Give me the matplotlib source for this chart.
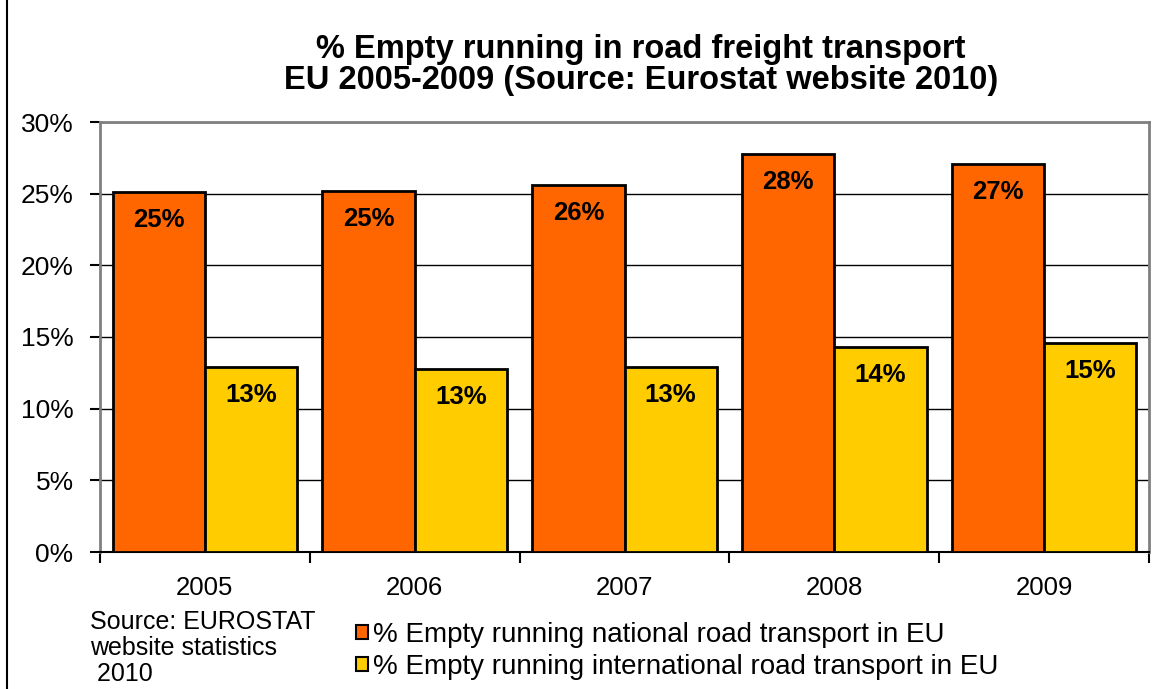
#!/usr/bin/env python3
"""Bar chart of empty running in EU road freight transport, 2005-2009."""

import matplotlib
matplotlib.use("Agg")
import matplotlib.pyplot as plt
from matplotlib.lines import Line2D
from matplotlib.patches import Patch
import numpy as np

years = ["2005", "2006", "2007", "2008", "2009"]
national = [25.1, 25.2, 25.6, 27.8, 27.1]
international = [12.9, 12.8, 12.9, 14.3, 14.6]
series_names = [
    "% Empty running national road transport in EU",
    "% Empty running international road transport in EU",
]
title = "% Empty running in road freight transport\nEU 2005-2009 (Source: Eurostat website 2010)"
source_note = "Source: EUROSTAT\nwebsite statistics\n 2010"

plt.rcParams["font.family"] = ["Liberation Sans", "DejaVu Sans"]

fig = plt.figure(figsize=(11.66, 6.89), dpi=100)
ax = fig.add_axes([100 / 1166, 137 / 689, 1049 / 1166, 430 / 689])

x = np.arange(len(years))
width = 0.44
bars_nat = ax.bar(x - width / 2, national, width, color="#FF6600", edgecolor="black", linewidth=2, zorder=3)
bars_int = ax.bar(x + width / 2, international, width, color="#FFCC00", edgecolor="black", linewidth=2, zorder=3)

for bars, values in ((bars_nat, national), (bars_int, international)):
    for bar, value in zip(bars, values):
        ax.annotate(f"{value:.0f}%", (bar.get_x() + bar.get_width() / 2, bar.get_height()),
                    xytext=(0, -28), textcoords="offset pixels", ha="center", va="center",
                    fontsize=18.5, fontweight="bold", zorder=4)

ax.set_xlim(-0.5, len(years) - 0.5)
ax.set_ylim(0, 30)
ax.set_yticks(np.arange(0, 31, 5))
ax.set_yticklabels([f"{v}%" for v in range(0, 31, 5)], fontsize=19)
ax.yaxis.grid(True, color="black", linewidth=1, zorder=0)
ax.set_axisbelow(True)

ax.set_xticks(np.arange(-0.5, len(years), 1))
ax.set_xticklabels([])
ax.set_xticks(x, minor=True)
ax.set_xticklabels(years, minor=True, fontsize=18.5)
ax.tick_params(axis="x", which="major", direction="out", length=8, width=1.5, color="black")
ax.tick_params(axis="x", which="minor", length=0, pad=17)
ax.tick_params(axis="y", direction="out", length=7, width=1.5, color="black", pad=12)

for side in ("top", "right", "left"):
    ax.spines[side].set_color("#808080")
    ax.spines[side].set_linewidth(2)
ax.spines["bottom"].set_color("black")
ax.spines["bottom"].set_linewidth(1.5)

fig.text(641 / 1166, 1 - 65 / 689, title, ha="center", va="center", fontsize=23.5,
         fontweight="bold", linespacing=1.0)

fig.text(90 / 1166, 1 - 648 / 689, source_note, ha="left", va="center", fontsize=18,
         linespacing=1.12)

handles = [Patch(facecolor="#FF6600", edgecolor="black", linewidth=1.5),
           Patch(facecolor="#FFCC00", edgecolor="black", linewidth=1.5)]
fig.legend(handles, series_names, loc="center left", bbox_to_anchor=(356 / 1166, 1 - 651 / 689),
           frameon=False, fontsize=20, handlelength=0.42, handleheight=0.42,
           handletextpad=0.2, labelspacing=0.22, borderpad=0, borderaxespad=0)

fig.add_artist(Line2D([7 / 1166, 7 / 1166], [0, 1], color="black", linewidth=1.5))

fig.savefig("out.png", dpi=100)
